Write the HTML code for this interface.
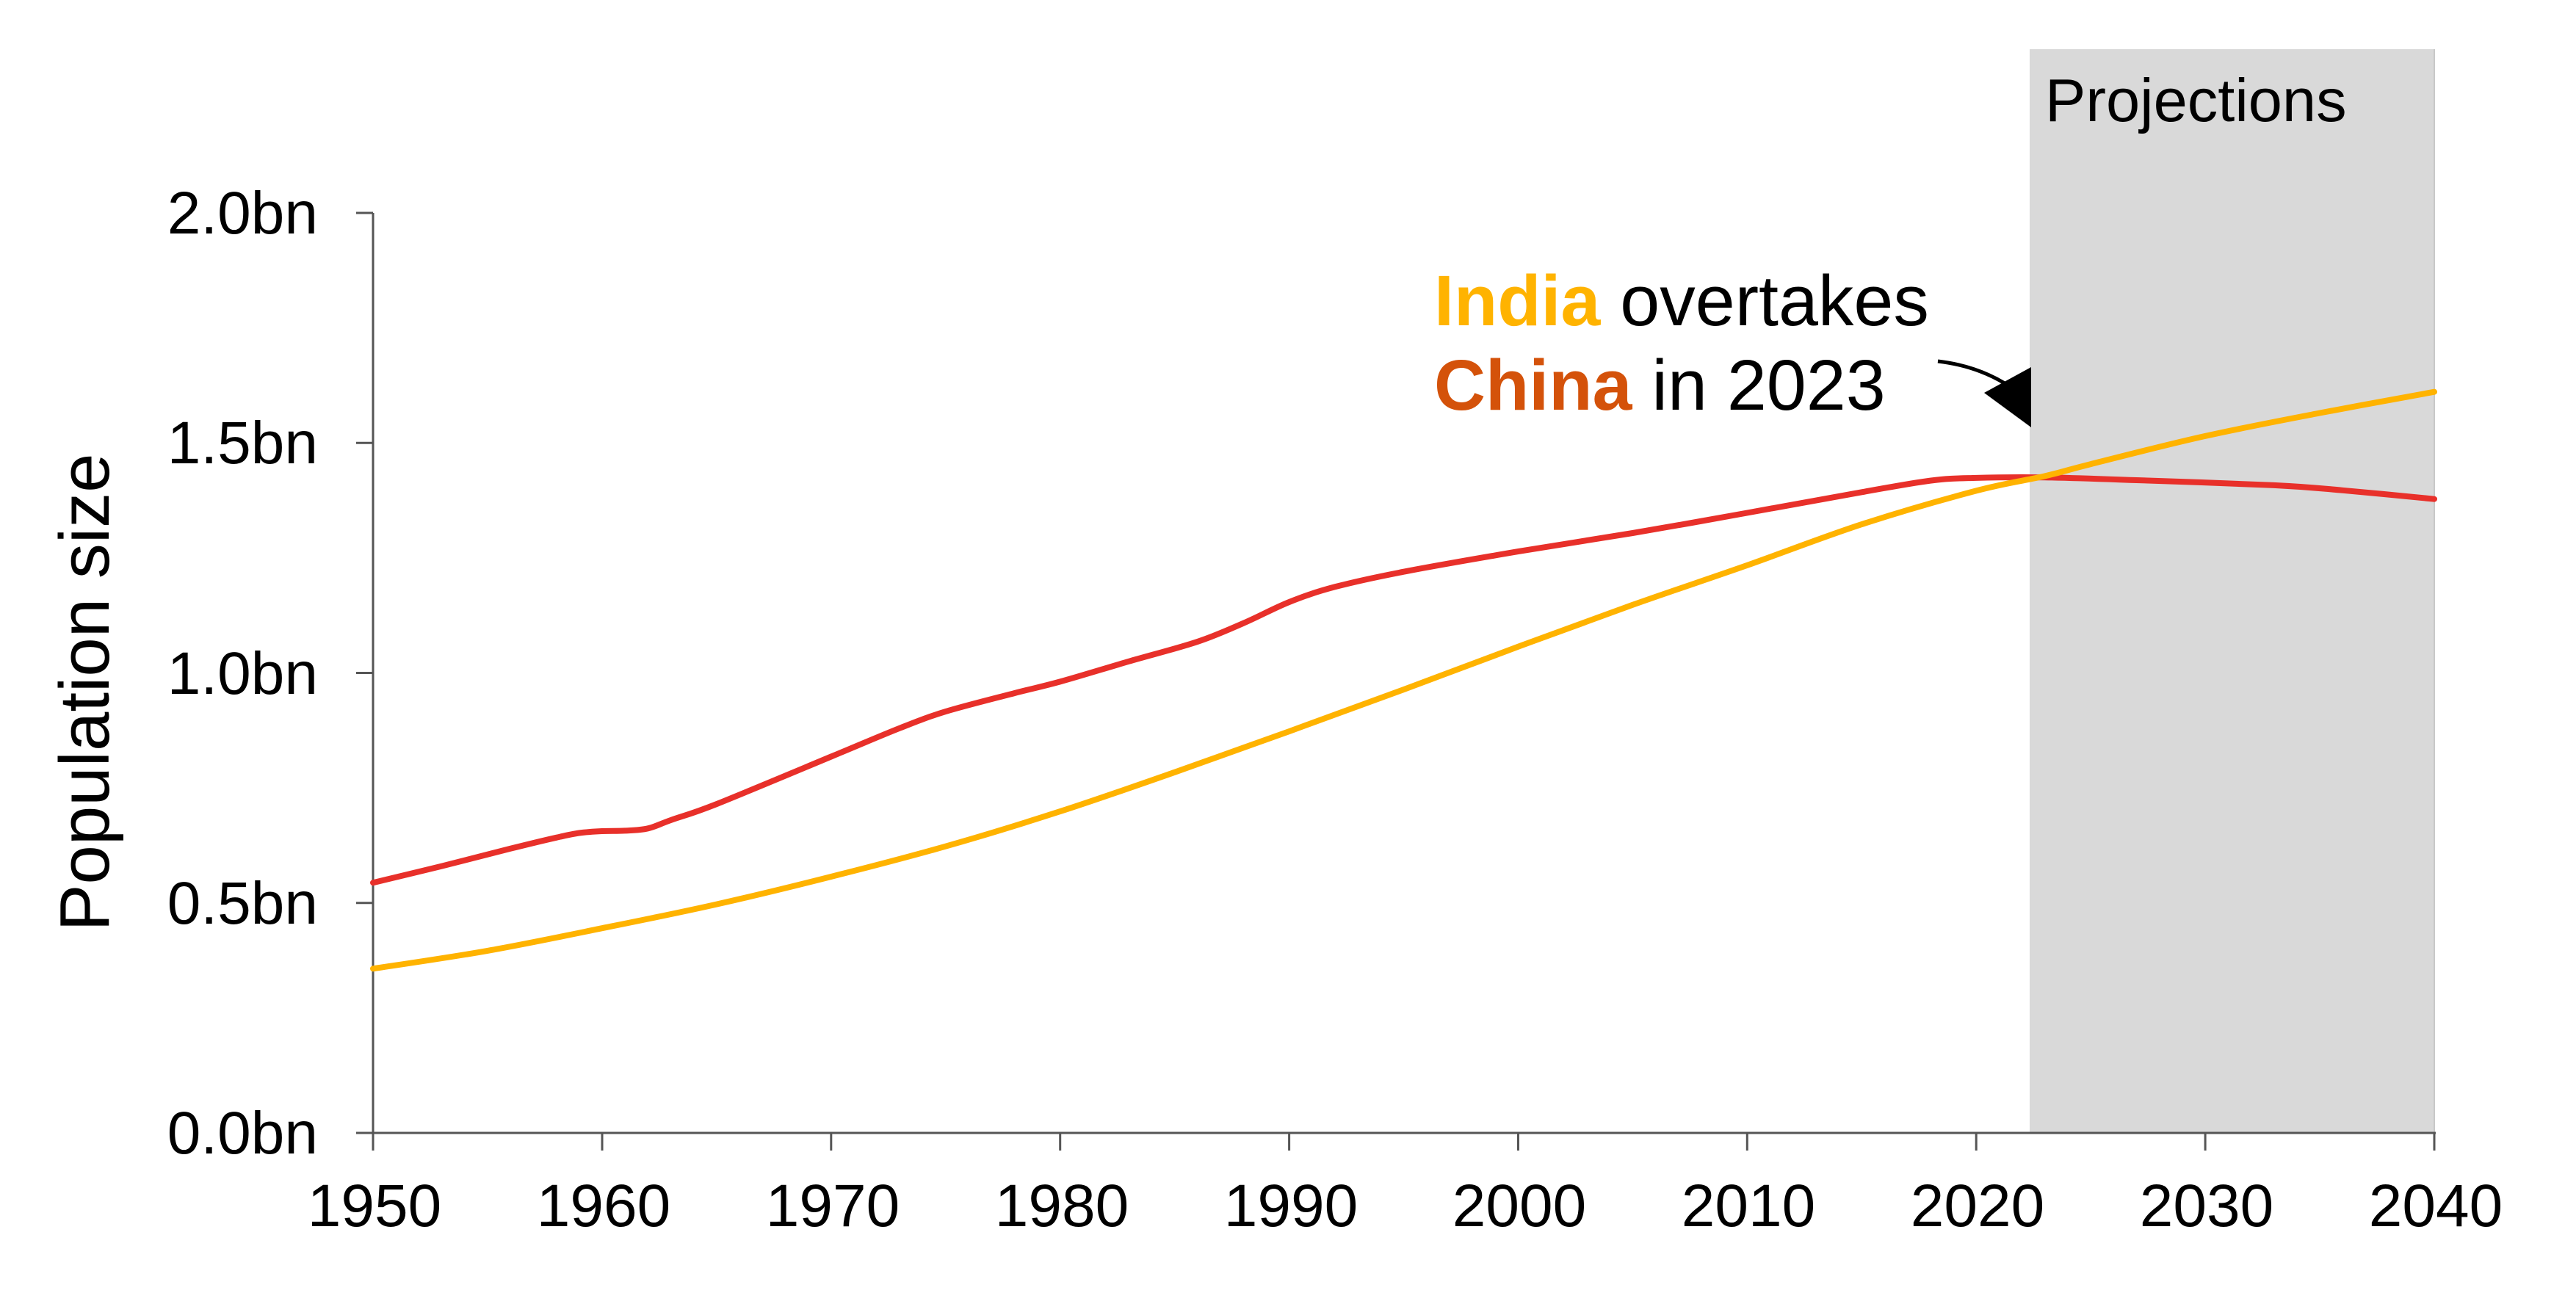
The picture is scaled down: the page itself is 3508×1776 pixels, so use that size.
<!DOCTYPE html>
<html><head><meta charset="utf-8">
<style>
html,body{margin:0;padding:0;background:#fff;}
svg{display:block;}
text{font-family:"Liberation Sans",Arial,sans-serif;}
</style></head>
<body>
<svg id="s" width="3508" height="1776" viewBox="0 0 3508 1776" xmlns="http://www.w3.org/2000/svg">
<rect x="2764" y="67" width="551" height="1476" fill="#d9d9d9"/>
<line x1="3315" y1="67" x2="3315" y2="1543" stroke="#c8c8c8" stroke-width="2"/>
<text x="2785" y="165" font-size="83" fill="#000">Projections</text>
<g stroke="#555" stroke-width="3">
<line x1="508" y1="290" x2="508" y2="1567"/>
<line x1="485" y1="1543" x2="3317" y2="1543"/>
<line x1="485" y1="290" x2="508" y2="290"/>
<line x1="485" y1="603.25" x2="508" y2="603.25"/>
<line x1="485" y1="916.5" x2="508" y2="916.5"/>
<line x1="485" y1="1229.75" x2="508" y2="1229.75"/>
<line x1="820" y1="1543" x2="820" y2="1567"/>
<line x1="1131.8" y1="1543" x2="1131.8" y2="1567"/>
<line x1="1443.7" y1="1543" x2="1443.7" y2="1567"/>
<line x1="1755.6" y1="1543" x2="1755.6" y2="1567"/>
<line x1="2067.5" y1="1543" x2="2067.5" y2="1567"/>
<line x1="2379.3" y1="1543" x2="2379.3" y2="1567"/>
<line x1="2691.2" y1="1543" x2="2691.2" y2="1567"/>
<line x1="3003.1" y1="1543" x2="3003.1" y2="1567"/>
<line x1="3315" y1="1543" x2="3315" y2="1567"/>
</g>
<g font-size="82" fill="#000" text-anchor="end">
<text x="433" y="318">2.0bn</text>
<text x="433" y="631">1.5bn</text>
<text x="433" y="945">1.0bn</text>
<text x="433" y="1258">0.5bn</text>
<text x="433" y="1571">0.0bn</text>
</g>
<g font-size="82" fill="#000" text-anchor="middle">
<text x="510" y="1670">1950</text>
<text x="822" y="1670">1960</text>
<text x="1134" y="1670">1970</text>
<text x="1446" y="1670">1980</text>
<text x="1758" y="1670">1990</text>
<text x="2069" y="1670">2000</text>
<text x="2381" y="1670">2010</text>
<text x="2693" y="1670">2020</text>
<text x="3005" y="1670">2030</text>
<text x="3317" y="1670">2040</text>
</g>
<text transform="translate(148,943) rotate(-90)" font-size="96" text-anchor="middle" fill="#000">Population size</text>
<text x="1953" y="443" font-size="97" fill="#000"><tspan fill="#FFB300" font-weight="bold">India</tspan> overtakes</text>
<text x="1953" y="558" font-size="97" fill="#000"><tspan fill="#D4520A" font-weight="bold">China</tspan> in 2023</text>
<path d="M2639,492 Q2690,498 2730,522" fill="none" stroke="#000" stroke-width="5"/>
<polygon points="2702,535 2766,500 2766,582" fill="#000"/>
<path id="china" fill="none" stroke="#E8302A" stroke-width="8" stroke-linejoin="round" stroke-linecap="round"/>
<path id="india" fill="none" stroke="#FFB300" stroke-width="8" stroke-linejoin="round" stroke-linecap="round"/>
</svg>
<script>
function X(y){return 508+(y-1950)*(3315-508)/90;}
function Y(v){return 1543-v*(1543-290)/2000;}
function path(d){
  var p=d.map(function(a){return [X(a[0]),Y(a[1])];});
  var s="M"+p[0][0].toFixed(1)+","+p[0][1].toFixed(1);
  for(var i=0;i<p.length-1;i++){
    var p0=p[i-1]||p[i],p1=p[i],p2=p[i+1],p3=p[i+2]||p2;
    var c1=[p1[0]+(p2[0]-p0[0])/6,p1[1]+(p2[1]-p0[1])/6];
    var c2=[p2[0]-(p3[0]-p1[0])/6,p2[1]-(p3[1]-p1[1])/6];
    s+=" C"+c1[0].toFixed(1)+","+c1[1].toFixed(1)+" "+c2[0].toFixed(1)+","+c2[1].toFixed(1)+" "+p2[0].toFixed(1)+","+p2[1].toFixed(1);
  }
  return s;
}
var china=[[1950,544],[1953,580],[1956,618],[1958,642],[1959,652],[1960,656],[1961,657],[1962,662],[1963,680],[1965,715],[1970,818],[1973,880],[1975,916],[1978,956],[1980,981],[1983,1025],[1986,1068],[1988,1108],[1990,1154],[1992,1187],[1995,1220],[2000,1264],[2005,1304],[2010,1348],[2015,1393],[2018,1418],[2020,1424],[2023,1425],[2027,1419],[2033,1408],[2036,1397],[2040,1378]];
var india=[[1950,357],[1955,396],[1960,445],[1965,497],[1970,557],[1975,623],[1980,699],[1985,784],[1990,873],[1995,964],[2000,1057],[2005,1148],[2010,1234],[2015,1323],[2020,1396],[2023,1428],[2025,1454],[2030,1515],[2035,1565],[2040,1611]];
document.getElementById("china").setAttribute("d",path(china));
document.getElementById("india").setAttribute("d",path(india));
</script>
</body></html>
